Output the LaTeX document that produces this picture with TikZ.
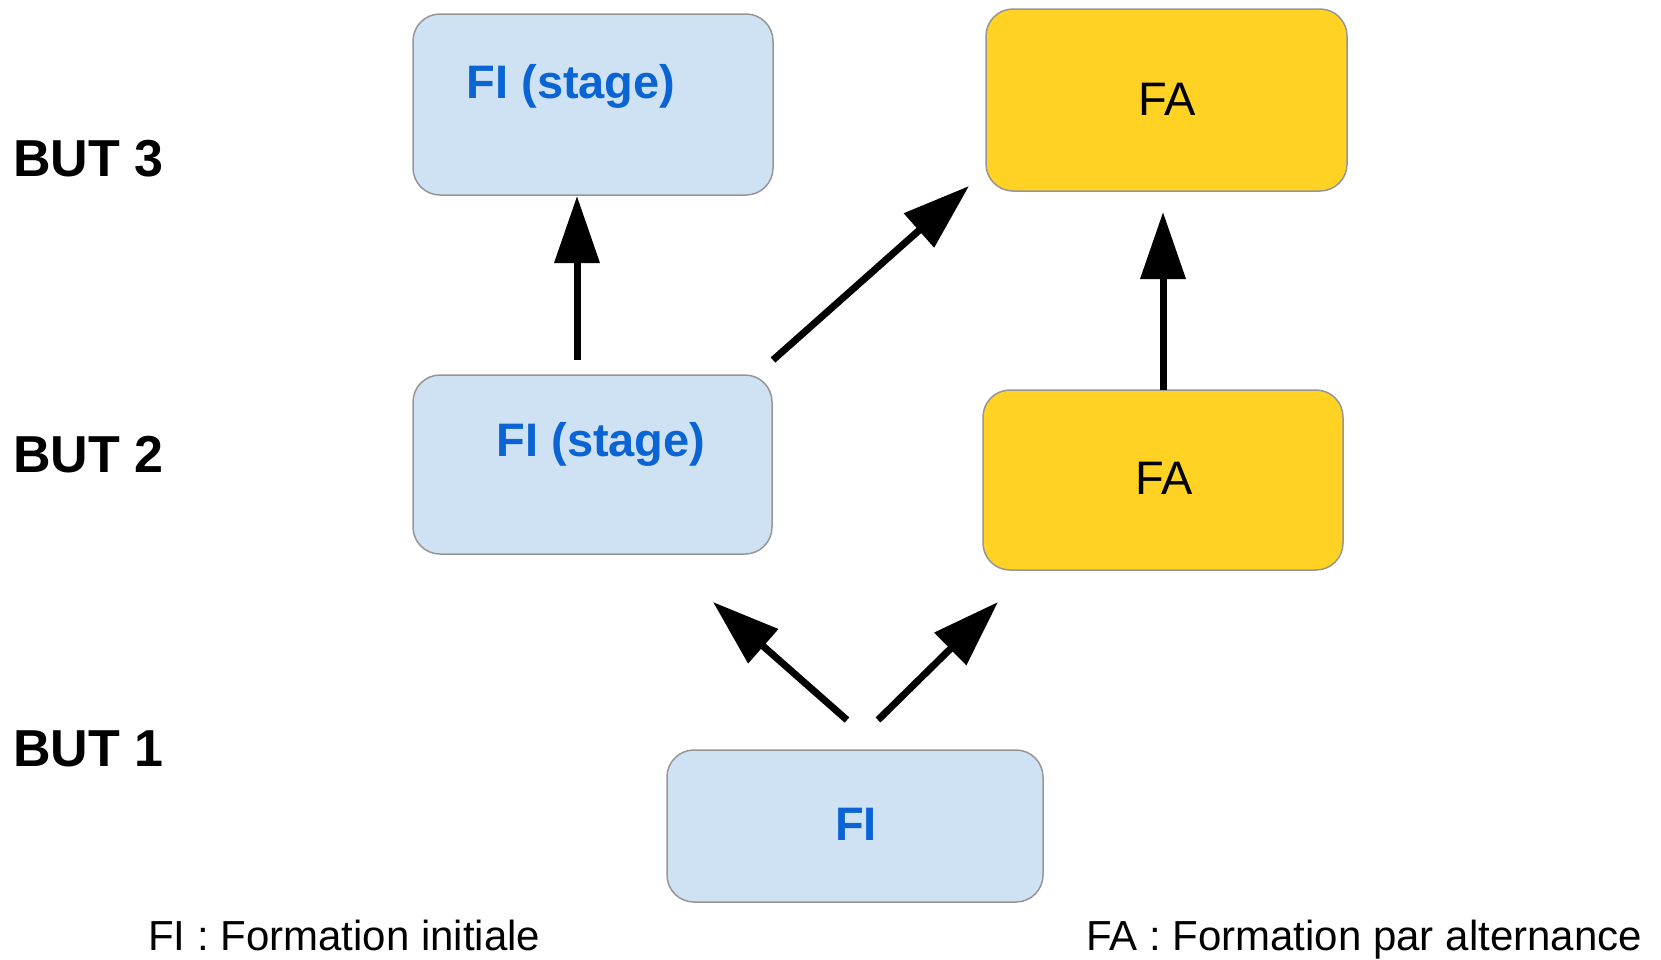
\documentclass[tikz,border=0pt]{standalone}
\usepackage{fontspec}
\setmainfont{Liberation Sans}
\usetikzlibrary{arrows.meta}
\definecolor{fiblue}{RGB}{207,226,243}
\definecolor{fitext}{RGB}{10,100,212}
\definecolor{fayellow}{RGB}{255,210,35}
\definecolor{boxline}{RGB}{150,150,150}
\tikzset{
  box/.style={draw=boxline, line width=1.5pt, rounded corners=27pt, inner sep=0pt},
  fibox/.style={box, fill=fiblue},
  fabox/.style={box, fill=fayellow},
  fitxt/.style={font=\fontsize{47}{50}\selectfont\bfseries, text=fitext, inner sep=0pt, anchor=base},
  fatxt/.style={font=\fontsize{47}{50}\selectfont, text=black, inner sep=0pt, anchor=base},
  butlbl/.style={font=\fontsize{52}{56}\selectfont\bfseries, inner sep=0pt, anchor=base west},
  legend/.style={font=\fontsize{42}{46}\selectfont, inner sep=0pt, anchor=base west},
  bigarrow/.style={line width=7pt, -{Triangle[length=67pt,width=44pt]}}
}
\begin{document}
\begin{tikzpicture}[x=1pt,y=-1pt]
\useasboundingbox (0,0) rectangle (1661,959);
% boxes
\node[fibox, minimum width=360pt, minimum height=181pt] (fi3) at (593,104.5) {};
\node[fabox, minimum width=361pt, minimum height=182pt] (fa3) at (1166.5,100) {};
\node[fibox, minimum width=359pt, minimum height=179pt] (fi2) at (592.5,464.5) {};
\node[fabox, minimum width=360pt, minimum height=180pt] (fa2) at (1163,480) {};
\node[fibox, minimum width=376pt, minimum height=152pt] (fi1) at (855,826) {};
% box texts
\node[fitxt] (t3) at (571,98) {FI (stage)};
\node[fatxt] (tfa3) at (1167,115) {FA};
\node[fitxt] (t2) at (601,456) {FI (stage)};
\node[fatxt] (tfa2) at (1164,494) {FA};
\node[fitxt] (t1) at (856,840) {FI};
% level labels
\node[butlbl] (b3) at (13,176) {BUT 3};
\node[butlbl] (b2) at (13,472) {BUT 2};
\node[butlbl] (b1) at (13,766) {BUT 1};
% legend
\node[legend] (lfi) at (148,950) {FI : Formation initiale};
\node[legend] (lfa) at (1086,950) {FA : Formation par alternance};
% arrow end points
\coordinate (a1s) at (577,360);
\coordinate (a1e) at (577,196);
\coordinate (a2s) at (773,360);
\coordinate (a2e) at (969,186);
\coordinate (a3s) at (1163,390);
\coordinate (a3e) at (1163,212);
\coordinate (a4s) at (847,720);
\coordinate (a4e) at (713,602);
\coordinate (a5s) at (878,720);
\coordinate (a5e) at (998,602);
\draw[bigarrow] (a1s) -- (a1e);
\draw[bigarrow] (a2s) -- (a2e);
\draw[bigarrow] (a3s) -- (a3e);
\draw[bigarrow] (a4s) -- (a4e);
\draw[bigarrow] (a5s) -- (a5e);
\end{tikzpicture}
\end{document}
